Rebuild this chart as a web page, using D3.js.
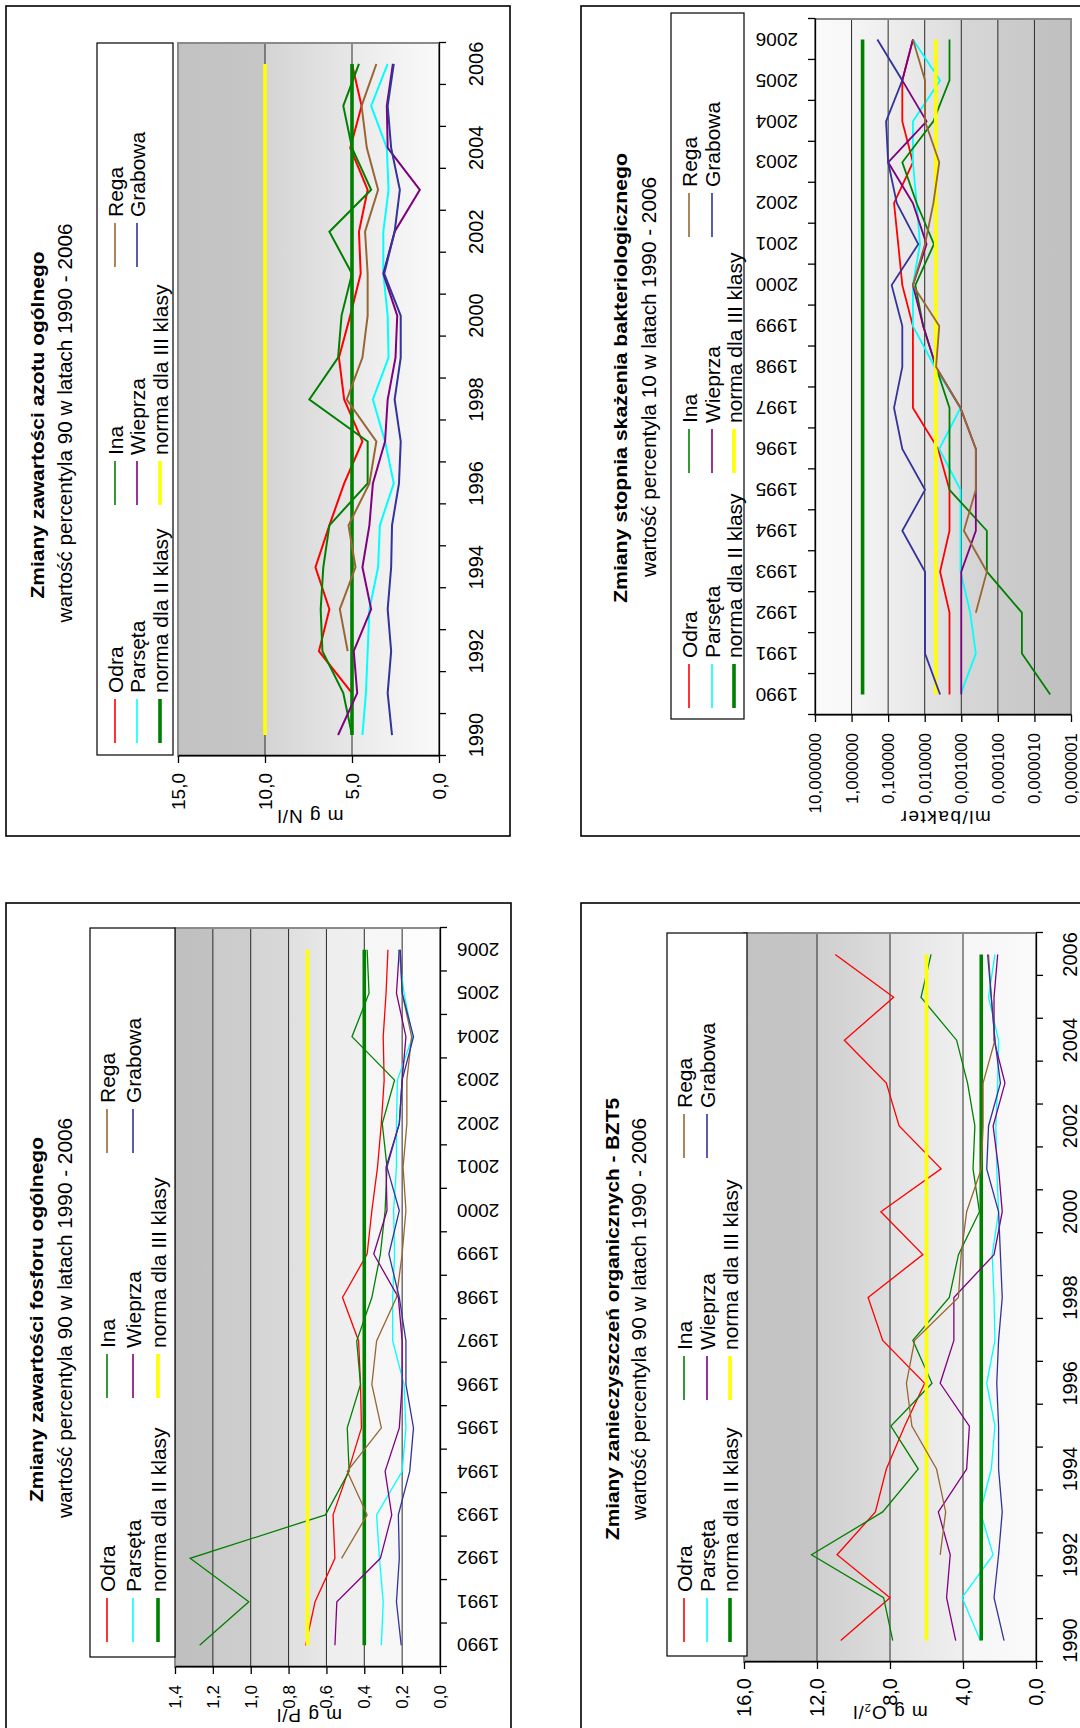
<!DOCTYPE html>
<html>
<head>
<meta charset="utf-8">
<script src="https://cdn.jsdelivr.net/npm/d3@7"></script>
<style>
  body { margin: 0; background: #fff; }
  text { font-family: "Liberation Sans", Arial, sans-serif; fill: #000; }
</style>
</head>
<body>
<script>
// ---- data -------------------------------------------------------------
const years = [1990, 1991, 1992, 1993, 1994, 1995, 1996, 1997, 1998, 1999, 2000, 2001, 2002, 2003, 2004, 2005, 2006];
const yearLabelsEven = [1990, 1992, 1994, 1996, 1998, 2000, 2002, 2004, 2006];

const seriesNames = ["Odra", "Parsęta", "norma dla II klasy", "Ina", "Wieprza", "norma dla III klasy", "Rega", "Grabowa"];
const seriesColors = ["#ff0000", "#00ffff", "#008000", "#008000", "#800080", "#ffff00", "#996633", "#333399"];

// total nitrogen, mg N/l
const azotOdra    = [null, 5.0, 6.9, 6.3, 7.1, 6.3, 5.45, 4.4, 5.45, 5.75, 5.1, 4.5, 4.6, 4.1, 5.1, 4.45, 5.0];
const azotParseta = [4.4, 4.2, 4.1, 4.0, 3.5, 3.4, 2.6, 3.1, 3.8, 2.9, 2.95, 3.2, 3.2, 2.9, 3.0, 3.9, 2.95];
const azotIna     = [5.0, 5.5, 6.7, 6.8, 6.65, 6.3, 4.1, 4.1, 7.45, 5.8, 5.6, 5.0, 6.3, 3.9, 5.0, 5.5, 4.6];
const azotWieprza = [5.8, 4.7, 4.9, 3.9, 4.4, 4.0, 3.8, 3.1, 2.95, 2.5, 2.4, 3.2, 2.55, 1.1, 2.95, 3.0, 2.65];
const azotRega    = [null, null, 5.25, 5.7, 4.8, 5.2, 4.0, 3.6, 5.3, 4.4, 4.1, 4.1, 4.25, 3.5, 4.15, 4.45, 3.6];
const azotGrabowa = [2.7, 2.95, 2.75, 2.95, 2.75, 2.7, 2.3, 2.2, 2.55, 2.2, 2.2, 3.15, 2.55, 2.25, 2.75, 2.95, 2.6];
const azotNorms   = [5, 10];
const azotTicks   = [0, 5, 10, 15];

// total phosphorus, mg P/l
const fosforOdra    = [0.71, 0.66, 0.555, 0.565, 0.485, 0.415, 0.42, 0.43, 0.515, 0.385, 0.36, 0.33, 0.31, 0.295, 0.30, 0.285, 0.275];
const fosforParseta = [0.31, 0.30, 0.32, 0.335, 0.20, 0.18, 0.19, 0.25, 0.25, 0.24, 0.245, 0.23, 0.23, 0.225, 0.145, 0.19, 0.22];
const fosforIna     = [1.27, 1.01, 1.32, 0.605, 0.48, 0.49, 0.42, 0.44, 0.36, 0.315, 0.29, 0.28, 0.305, 0.24, 0.465, 0.375, 0.385];
const fosforWieprza = [0.555, 0.545, 0.315, 0.255, 0.29, 0.215, 0.20, 0.20, 0.22, 0.35, 0.28, 0.285, 0.215, 0.20, 0.18, 0.23, 0.215];
const fosforRega    = [null, null, 0.52, 0.385, 0.49, 0.31, 0.36, 0.335, 0.23, 0.20, 0.18, 0.195, 0.175, 0.175, 0.15, 0.20, 0.21];
const fosforGrabowa = [0.205, 0.23, 0.215, 0.22, 0.16, 0.14, 0.18, 0.18, 0.215, 0.27, 0.215, 0.28, 0.215, 0.20, 0.14, 0.20, 0.21];
const fosforNorms   = [0.4, 0.7];
const fosforTicks   = [0, 0.2, 0.4, 0.6, 0.8, 1.0, 1.2, 1.4];

// BOD5, mg O2/l
const bztOdra    = [10.7, 8.0, 10.9, 8.8, 8.2, 7.2, 6.1, 8.4, 9.2, 6.2, 8.5, 5.2, 7.5, 8.2, 10.5, 7.8, 11.0];
const bztParseta = [3.05, 4.05, 2.35, 3.05, 2.45, 2.25, 2.7, 2.25, 2.3, 2.4, 2.05, 2.15, 2.2, 2.1, 2.05, 2.6, 2.25];
const bztIna     = [7.85, 8.35, 12.3, 8.4, 6.45, 7.95, 5.7, 6.75, 4.75, 4.25, 3.1, 3.45, 3.35, 3.75, 4.35, 6.3, 5.75];
const bztWieprza = [4.4, 4.9, 4.7, 5.35, 3.8, 3.65, 5.25, 4.5, 4.5, 2.3, 1.85, 2.05, 2.35, 1.7, 2.3, 2.3, 2.1];
const bztRega    = [null, null, 5.25, 4.95, 5.45, 6.8, 7.1, 6.65, 4.25, 4.1, 3.8, 3.0, 2.9, 2.9, 2.25, 2.45, 2.6];
const bztGrabowa = [1.75, 2.3, 2.05, 1.85, 2.05, 2.05, 2.15, 2.05, 1.85, 1.95, 2.05, 2.7, 2.6, 1.95, 2.25, 2.45, 2.65];
const bztNorms   = [3, 6];
const bztTicks   = [0, 4, 8, 12, 16];

// coli titre, ml/bakter (log scale)
const bakOdra    = [0.0021, 0.0021, 0.0021, 0.0038, 0.0021, 0.0021, 0.0043, 0.021, 0.021, 0.021, 0.041, 0.053, 0.069, 0.021, 0.041, 0.041, 0.021];
const bakParseta = [0.00105, 0.0004, 0.00057, 0.00105, 0.00105, 0.00105, 0.004, 0.00105, 0.0053, 0.021, 0.021, 0.0135, 0.0166, 0.021, 0.021, 0.0038, 0.021];
const bakIna     = [0.0000037, 0.000022, 0.000022, 0.0002, 0.0002, 0.0021, 0.0021, 0.0021, 0.0049, 0.011, 0.018, 0.0056, 0.0166, 0.041, 0.0058, 0.0021, 0.0021];
const bakWieprza = [0.001, 0.001, 0.001, 0.001, 0.0004, 0.0004, 0.0004, 0.00105, 0.0049, 0.011, 0.021, 0.0089, 0.021, 0.1, 0.0089, 0.041, 0.021];
const bakRega    = [null, null, 0.0004, 0.0002, 0.00085, 0.0004, 0.0004, 0.00105, 0.0049, 0.004, 0.021, 0.0098, 0.0058, 0.004, 0.0098, 0.0098, 0.021];
const bakGrabowa = [0.0038, 0.0098, 0.0098, 0.0098, 0.041, 0.0098, 0.041, 0.069, 0.041, 0.041, 0.08, 0.015, 0.058, 0.1, 0.114, 0.041, 0.197];
const bakNorms   = [0.5, 0.005];
const bakTicks   = [10, 1, 0.1, 0.01, 0.001, 0.0001, 0.00001, 0.000001];

// ---- drawing ----------------------------------------------------------
const FONT = '"Liberation Sans", Arial, sans-serif';
const svg = d3.select("body").append("svg").attr("width", 1080).attr("height", 1728);
svg.append("rect").attr("width", 1080).attr("height", 1728).attr("fill", "#fff");
const defs = svg.append("defs");

const commaFmt = spec => { const f = d3.format(spec); return d => f(d).replace(".", ","); };

// Each panel is laid out on a landscape page and turned a quarter turn
// counter-clockwise; P is the panel box in screen coordinates.
function drawPanel(c) {
  const P = c.panel;
  const U = py => P.y1 - py;          // screen y -> local x
  const V = px => px - P.x0;          // screen x -> local y
  const W = P.y1 - P.y0, H = P.x1 - P.x0;
  const g = svg.append("g").attr("transform", `translate(${P.x0},${P.y1}) rotate(-90)`);

  g.append("rect").attr("width", W).attr("height", H)
    .attr("fill", "#fff").attr("stroke", "#000").attr("stroke-width", 1.6);

  const L = U(c.plot.y1), R = U(c.plot.y0), T = V(c.plot.x0), B = V(c.plot.x1);
  const x = d3.scaleLinear().domain([1989.5, 2006.5]).range([L, R]);
  const y = (c.log ? d3.scaleLog() : d3.scaleLinear()).domain(c.domain).range([B, T]);

  // plot background
  const grad = defs.append("linearGradient").attr("id", c.id + "-bg")
    .attr("x1", 0).attr("y1", 0).attr("x2", 0).attr("y2", 1);
  c.bg.forEach(([o, col]) => grad.append("stop").attr("offset", o).attr("stop-color", col));
  g.append("rect").attr("x", L).attr("y", T).attr("width", R - L).attr("height", B - T)
    .attr("fill", `url(#${c.id}-bg)`);

  // gridlines
  g.append("g").selectAll("line").data(c.grid).join("line")
    .attr("x1", L).attr("x2", R).attr("y1", d => y(d)).attr("y2", d => y(d))
    .attr("stroke", "#2a2a2a").attr("stroke-width", 1);

  g.append("rect").attr("x", L).attr("y", T).attr("width", R - L).attr("height", B - T)
    .attr("fill", "none").attr("stroke", "#8a8a8a").attr("stroke-width", 2);

  // series, in legend order (later ones on top)
  const line = d3.line().defined(d => d[1] != null).x(d => x(d[0])).y(d => y(d[1]));
  c.series.forEach((vals, i) => {
    const isNorm = !Array.isArray(vals);
    const pts = isNorm ? [[years[0], vals], [years[years.length - 1], vals]] : years.map((yr, k) => [yr, vals[k]]);
    g.append("path").datum(pts).attr("d", line).attr("fill", "none")
      .attr("stroke", seriesColors[i]).attr("stroke-width", isNorm ? 3.6 : c.lw)
      .attr("stroke-linejoin", "miter");
  });

  // value axis
  const ga = g.append("g").attr("transform", `translate(${L},0)`)
    .call(d3.axisLeft(y).tickValues(c.ticks).tickSize(7).tickSizeOuter(0)
      .tickPadding(c.vpad).tickFormat(c.fmt));
  ga.selectAll("text").attr("font-size", c.vfs).attr("font-family", FONT).attr("fill", "#000");
  ga.selectAll("line,path").attr("stroke", "#000").attr("stroke-width", 1.3);

  // category axis: ticks between years
  const bounds = years.map(d => d - 0.5).concat([years[years.length - 1] + 0.5]);
  const axPos = c.catTop ? T : B;
  const gx = g.append("g").attr("transform", `translate(0,${axPos})`)
    .call((c.catTop ? d3.axisTop(x) : d3.axisBottom(x))
      .tickValues(bounds).tickSize(7).tickSizeOuter(0).tickFormat(""));
  gx.selectAll("line,path").attr("stroke", "#000").attr("stroke-width", 1.3);

  // year labels
  g.append("g").selectAll("text").data(c.yearLabels).join("text")
    .attr("font-size", c.yfs)
    .attr("transform", d => c.yrRot ? `translate(${x(d)},${c.yrV}) rotate(-90)` : `translate(${x(d)},${c.yrV})`)
    .attr("text-anchor", c.yrAnchor)
    .attr("dy", c.yrRot ? "0.36em" : 0)
    .text(d => d);

  // value axis title
  const yt = g.append("text")
    .attr("transform", `translate(${c.ytitle.u},${c.ytitle.v}) rotate(-90)`)
    .attr("text-anchor", "middle").attr("dy", "0.35em")
    .attr("font-size", c.ytitle.fs).attr("letter-spacing", c.ytitle.ls);
  c.ytitle.parts.forEach(p => {
    const t = yt.append("tspan").text(p.t);
    if (p.sub) t.attr("font-size", c.ytitle.fs * 0.6).attr("dy", "0.25em");
    if (p.after) t.attr("dy", "-0.15em");
  });

  // titles
  g.append("text").attr("x", c.title.u).attr("y", c.title.v).attr("text-anchor", "middle")
    .attr("font-size", 19).attr("font-weight", "bold")
    .attr("textLength", c.title.len).attr("lengthAdjust", "spacingAndGlyphs")
    .text(c.title.text);
  g.append("text").attr("x", c.sub.u).attr("y", c.sub.v).attr("text-anchor", "middle")
    .attr("font-size", 20)
    .attr("textLength", c.sub.len).attr("lengthAdjust", "spacingAndGlyphs")
    .text(c.sub.text);

  // legend
  const lg = c.legend;
  g.append("rect").attr("x", U(lg.y1)).attr("y", V(lg.x0))
    .attr("width", U(lg.y0) - U(lg.y1)).attr("height", V(lg.x1) - V(lg.x0))
    .attr("fill", "#fff").attr("stroke", "#000").attr("stroke-width", 1.2);
  seriesNames.forEach((name, i) => {
    const col = Math.floor(i / 3), row = i % 3;
    const u0 = lg.cols[col], v0 = lg.rows[row];
    const isNorm = !Array.isArray(c.series[i]);
    g.append("line").attr("x1", u0).attr("x2", u0 + 44).attr("y1", v0).attr("y2", v0)
      .attr("stroke", seriesColors[i]).attr("stroke-width", isNorm ? 3.6 : 1.6);
    g.append("text").attr("x", u0 + 50).attr("y", v0).attr("dy", "0.36em")
      .attr("font-size", 21).text(name);
  });
}

const bandStops = cols => cols.map((c, i) => [i / (cols.length - 1), c]);

drawPanel({
  id: "azot",
  panel: { x0: 6, y0: 6, x1: 510, y1: 836 },
  plot: { x0: 178, x1: 439, y0: 43, y1: 756 },
  domain: [0, 15], ticks: azotTicks, grid: [5, 10], fmt: commaFmt(".1f"),
  series: [azotOdra, azotParseta, azotNorms[0], azotIna, azotWieprza, azotNorms[1], azotRega, azotGrabowa],
  lw: 2,
  bg: [[0, "#c2c2c2"], [0.333, "#c6c6c6"], [0.334, "#d4d4d4"], [0.666, "#e7e7e7"], [0.667, "#eaeaea"], [1, "#fafafa"]],
  vfs: 19, vpad: 10,
  yearLabels: yearLabelsEven, yrRot: false, yrV: 477, yrAnchor: "middle", yfs: 20,
  ytitle: { u: 19, v: 304, fs: 19, ls: 1, parts: [{ t: "m g N/l" }] },
  title: { u: 411, v: 38, len: 347, text: "Zmiany zawartości azotu ogólnego" },
  sub: { u: 413, v: 66, len: 399, text: "wartość percentyla 90 w latach 1990 - 2006" },
  legend: { x0: 97, x1: 173, y0: 43, y1: 755, rows: [109, 131, 154], cols: [93, 331, 569] }
});

drawPanel({
  id: "fosfor",
  panel: { x0: 6, y0: 903, x1: 511, y1: 1733 },
  plot: { x0: 175, x1: 440, y0: 928, y1: 1667 },
  domain: [0, 1.4], ticks: fosforTicks, grid: [0.2, 0.4, 0.6, 0.8, 1.0, 1.2], fmt: commaFmt(".1f"),
  series: [fosforOdra, fosforParseta, fosforNorms[0], fosforIna, fosforWieprza, fosforNorms[1], fosforRega, fosforGrabowa],
  lw: 1.3,
  bg: [[0, "#bfbfbf"], [0.142, "#c2c2c2"], [0.143, "#cbcbcb"], [0.285, "#cdcdcd"], [0.286, "#d5d5d5"], [0.428, "#d8d8d8"],
       [0.429, "#dfdfdf"], [0.571, "#e8e8e8"], [0.572, "#eeeeee"], [0.714, "#efefef"], [0.715, "#f6f6f6"], [0.857, "#f7f7f7"],
       [0.858, "#fcfcfc"], [1, "#fdfdfd"]],
  vfs: 17, vpad: 11,
  yearLabels: years, yrRot: true, yrV: 451, yrAnchor: "end", yfs: 19,
  ytitle: { u: 17, v: 303, fs: 19, ls: 1, parts: [{ t: "m g P/l" }] },
  title: { u: 413.5, v: 37, len: 365, text: "Zmiany zawartości fosforu ogólnego" },
  sub: { u: 415, v: 66, len: 400, text: "wartość percentyla 90 w latach 1990 - 2006" },
  legend: { x0: 90, x1: 175, y0: 928, y1: 1657, rows: [101, 127, 152], cols: [91, 335, 580] }
});

drawPanel({
  id: "bzt",
  panel: { x0: 581, y0: 903, x1: 1086, y1: 1733 },
  plot: { x0: 744, x1: 1036, y0: 933, y1: 1662 },
  domain: [0, 16], ticks: bztTicks, grid: [4, 8, 12], fmt: commaFmt(".1f"),
  series: [bztOdra, bztParseta, bztNorms[0], bztIna, bztWieprza, bztNorms[1], bztRega, bztGrabowa],
  lw: 1.3,
  bg: [[0, "#c3c3c3"], [0.249, "#c5c5c5"], [0.25, "#cfcfcf"], [0.499, "#dddddd"], [0.5, "#e3e3e3"], [0.749, "#efefef"], [0.75, "#f6f6f6"], [1, "#fafafa"]],
  vfs: 20, vpad: 9,
  yearLabels: yearLabelsEven, yrRot: false, yrV: 496, yrAnchor: "middle", yfs: 20,
  ytitle: { u: 20, v: 309, fs: 19, ls: 1, parts: [{ t: "m g O" }, { t: "2", sub: true }, { t: "/l", after: true }] },
  title: { u: 414, v: 38, len: 442, text: "Zmiany zanieczyszczeń organicznych - BZT5" },
  sub: { u: 414, v: 65, len: 402, text: "wartość percentyla 90 w latach 1990 - 2006" },
  legend: { x0: 667, x1: 747, y0: 933, y1: 1656, rows: [103, 126, 149], cols: [91, 333, 575] }
});

drawPanel({
  id: "bakter",
  panel: { x0: 581, y0: 6, x1: 1086, y1: 836 },
  plot: { x0: 815, x1: 1071, y0: 19, y1: 715 },
  log: true, catTop: true,
  domain: [0.000001, 10], ticks: bakTicks, grid: [1, 0.1, 0.01, 0.001, 0.0001, 0.00001], fmt: commaFmt(".6f"),
  series: [bakOdra, bakParseta, bakNorms[0], bakIna, bakWieprza, bakNorms[1], bakRega, bakGrabowa],
  lw: 1.8,
  bg: [[0, "#fafafa"], [0.142, "#f8f8f8"], [0.143, "#f5f5f5"], [0.285, "#eeeeee"], [0.286, "#ededed"], [0.428, "#e7e7e7"],
       [0.429, "#e4e4e4"], [0.571, "#dcdcdc"], [0.572, "#d6d6d6"], [0.714, "#d3d3d3"], [0.715, "#cccccc"], [0.857, "#c9c9c9"],
       [0.858, "#c3c3c3"], [1, "#c0c0c0"]],
  vfs: 17, vpad: 11,
  yearLabels: years, yrRot: true, yrV: 217, yrAnchor: "start", yfs: 19,
  ytitle: { u: 18, v: 364, fs: 19, ls: 1.5, parts: [{ t: "ml/bakter" }] },
  title: { u: 458, v: 46, len: 450, text: "Zmiany stopnia skażenia bakteriologicznego" },
  sub: { u: 459, v: 75, len: 400, text: "wartość percentyla 10 w latach 1990 - 2006" },
  legend: { x0: 671, x1: 744, y0: 13, y1: 719, rows: [108, 131, 153], cols: [128, 363, 599] }
});
</script>
</body>
</html>
